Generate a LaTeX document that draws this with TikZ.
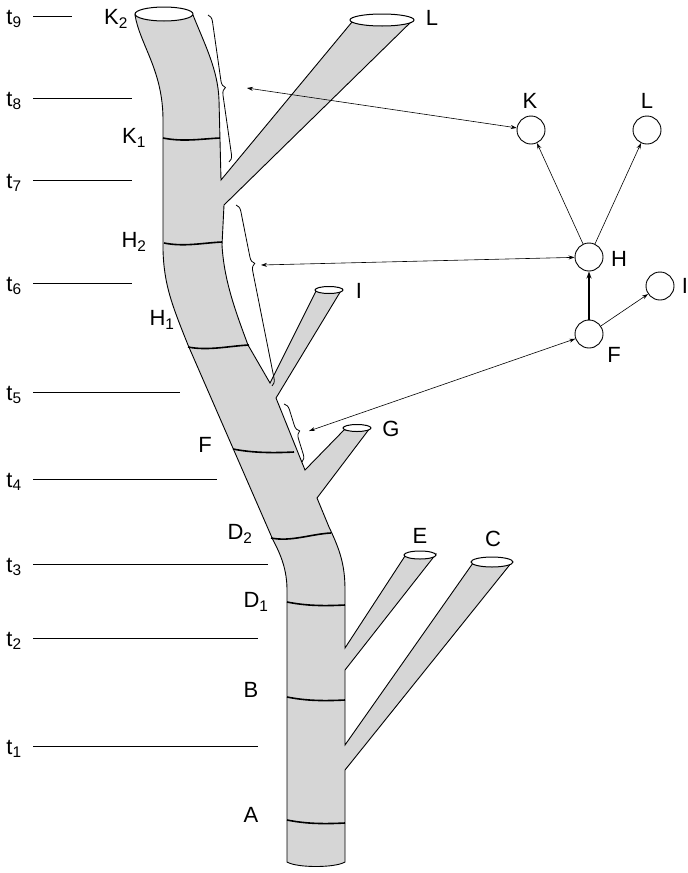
\documentclass[tikz,border=0pt]{standalone}
\usepackage{fontspec}
\setmainfont{Liberation Sans}
\usetikzlibrary{decorations.pathreplacing,arrows.meta}
\begin{document}
\begin{tikzpicture}[x=1pt,y=-1pt,
  lbl/.style={font=\fontsize{22}{24}\selectfont,inner sep=0pt},
  tl/.style={line width=0.9pt},
  band/.style={line width=1.6pt},
  br/.style={decorate,decoration={brace,amplitude=7pt},line width=0.8pt},
  ci/.style={circle,draw,line width=0.9pt,minimum size=28pt,inner sep=0pt},
  ar/.style={-{Stealth[length=6pt,width=4pt]},line width=0.6pt},
  dar/.style={{Stealth[length=6pt,width=4pt]}-{Stealth[length=6pt,width=4pt]},line width=0.6pt},
  hole/.style={draw,fill=white,line width=1pt}]
\useasboundingbox (0,0) rectangle (688,873);
\definecolor{tube}{gray}{0.84}
% tube body
\draw[fill=tube,line width=0.9pt]
 (287,862) -- (287,590) .. controls (287,570) and (281,555) .. (273,540)
 -- (188,345) .. controls (172,305) and (164,285) .. (163,250)
 -- (163,120) .. controls (163,70) and (140,45) .. (135,15)
 -- (193,15) .. controls (205,45) and (218,70) .. (219,100)
 -- (221,180) -- (352,22) -- (413,20) -- (224,205)
 -- (222,245) .. controls (224,280) and (235,310) .. (248,345)
 -- (270,383) -- (316,291) -- (342,289) -- (276,398)
 -- (305,470) -- (344,430) -- (370,428) -- (317,498)
 -- (329,527) .. controls (340,550) and (345,565) .. (345,590)
 -- (345,648) -- (405,556) -- (436,554) -- (345,670)
 -- (345,745) -- (473,563) -- (512,562) -- (345,770)
 -- (345,862) .. controls (335,868) and (297,868) .. (287,862) -- cycle;
% openings
\draw[hole] (164,14) ellipse [x radius=29,y radius=7];
\draw[hole] (382,20) ellipse [x radius=32,y radius=6];
\draw[hole] (329,290) ellipse [x radius=14,y radius=3.5];
\draw[hole] (357,428) ellipse [x radius=14,y radius=3.5];
\draw[hole] (420,555) ellipse [x radius=16,y radius=4];
\draw[hole] (492,562) ellipse [x radius=21,y radius=5];
% bands
\foreach \a/\b/\y/\c in {287/345/820/823, 287/345/697/700, 287/345/602/605, 271/331/538/533,
  233/294/449/452, 188/249/347/345, 164/222/243/242, 163/220/138/138}
  \draw[band] (\a,\y) .. controls (\a+20,\y+4) and (\b-20,\c+1) .. (\b,\c);
% time lines
\foreach \n/\y/\e in {9/16/72, 8/98/132, 7/180/132, 6/283/132, 5/392/180, 4/479/217, 3/564/268, 2/638/258, 1/746/258}{
  \node[lbl] (t\n) at (14,\y+3) {t\textsubscript{\n}};
  \draw[tl] (33,\y) -- (\e,\y);
}
% labels on tube
\node[lbl] (lK2) at (116,19) {K\textsubscript{2}};
\node[lbl] (lK1) at (134,138) {K\textsubscript{1}};
\node[lbl] (lH2) at (134,242) {H\textsubscript{2}};
\node[lbl] (lH1) at (162,320) {H\textsubscript{1}};
\node[lbl] (lF) at (205,445) {F};
\node[lbl] (lD2) at (240,534) {D\textsubscript{2}};
\node[lbl] (lD1) at (256,602) {D\textsubscript{1}};
\node[lbl] (lB) at (251,690) {B};
\node[lbl] (lA) at (251,815) {A};
\node[lbl] (lL) at (432,18) {L};
\node[lbl] (lI) at (359,291) {I};
\node[lbl] (lG) at (391,429) {G};
\node[lbl] (lE) at (420,536) {E};
\node[lbl] (lC) at (493,539) {C};
% braces
\draw[br] (208,15) -- (229,162);
\draw[br,decoration={brace,amplitude=7pt,aspect=0.33}] (236,205) -- (272,386);
\draw[br] (284,404) -- (302,462);
\coordinate (b1) at (247,88);
\coordinate (b2) at (261,265);
\coordinate (b3) at (309,431);
% tree
\node[ci] (K) at (531,130) {};
\node[ci] (L) at (647,130) {};
\node[ci] (H) at (589,257) {};
\node[ci] (I) at (660,286) {};
\node[ci] (F) at (589,334) {};
\node[lbl] at (530,101) {K};
\node[lbl] at (647,101) {L};
\node[lbl] at (619,259) {H};
\node[lbl] at (685,286) {I};
\node[lbl] at (614,355) {F};
\draw[ar] (H) -- (K);
\draw[ar] (H) -- (L);
\draw[-{Stealth[length=7pt,width=5pt]},line width=1.2pt] (F) -- (H);
\draw[ar] (F) -- (I);
\draw[dar] (b1) -- (K);
\draw[dar] (b2) -- (H);
\draw[dar] (b3) -- (F);
\end{tikzpicture}
\end{document}
